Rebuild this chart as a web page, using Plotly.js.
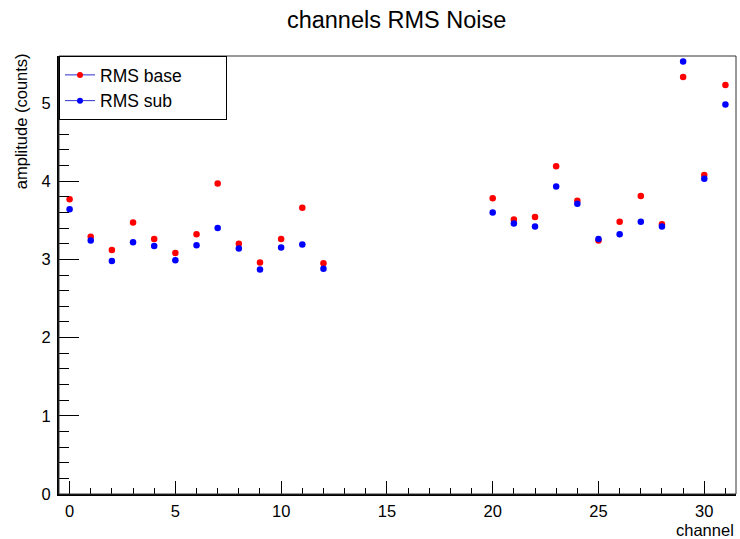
<!DOCTYPE html>
<html>
<head>
<meta charset="utf-8">
<script src="https://cdn.plot.ly/plotly-3.0.1.min.js"></script>
<style>html,body{margin:0;padding:0;background:#fff;}#chart{width:740px;height:539px;}</style>
</head>
<body>
<div id="chart"></div>
<script>
const channels = [0,1,2,3,4,5,6,7,8,9,10,11,12,20,21,22,23,24,25,26,27,28,29,30,31];
const rmsBase = [3.77,3.29,3.12,3.47,3.26,3.08,3.32,3.97,3.20,2.96,3.26,3.66,2.95,
                 3.78,3.51,3.54,4.19,3.75,3.24,3.48,3.81,3.45,5.33,4.08,5.23];
const rmsSub  = [3.64,3.24,2.98,3.22,3.17,2.99,3.18,3.40,3.14,2.87,3.15,3.19,2.88,
                 3.60,3.46,3.42,3.93,3.71,3.26,3.32,3.48,3.42,5.53,4.03,4.98];
const seriesNames = ["RMS base","RMS sub"];
const titleText = "channels RMS Noise";
const xTitle = "channel";
const yTitle = "amplitude (counts)";

const FONT = "Liberation Sans, Arial, Helvetica, sans-serif";
const padBase = "\u00a0".repeat(6);
const padSub = "\u00a0".repeat(10);

const traces = [
  {x: channels, y: rmsBase, type:'scatter', mode:'markers', showlegend:false,
   marker:{color:'#ff0000', size:6.5}},
  {x: channels, y: rmsSub, type:'scatter', mode:'markers', showlegend:false,
   marker:{color:'#0000ff', size:6.5}},
  {x:[null], y:[null], type:'scatter', mode:'lines+markers', name: seriesNames[0] + padBase,
   line:{color:'#2f2fd8', width:1}, marker:{color:'#ff0000', size:6}},
  {x:[null], y:[null], type:'scatter', mode:'lines+markers', name: seriesNames[1] + padSub,
   line:{color:'#2f2fd8', width:1}, marker:{color:'#0000ff', size:6}}
];

const layout = {
  width:740, height:539,
  margin:{l:59, r:4, t:56, b:45, pad:0},
  paper_bgcolor:'#fff', plot_bgcolor:'#fff',
  font:{family:FONT, size:16, color:'#000'},
  title:{text:titleText, font:{family:FONT, size:23.5, color:'#000'}, x:0.536, xanchor:'center', y:0.963, yanchor:'middle'},
  showlegend:true,
  legend:{x:0, xanchor:'left', y:1, yanchor:'top', bgcolor:'#fff', bordercolor:'#000', borderwidth:1,
          font:{family:FONT, size:17.5, color:'#000'}, itemwidth:30, tracegroupgap:0},
  xaxis:{range:[-0.5,31.5], showgrid:false, zeroline:false, showline:true, linecolor:'#000', linewidth:2,
         ticks:'inside', ticklen:13, tickwidth:1, tickcolor:'#000', dtick:5, tick0:0,
         minor:{dtick:1, ticks:'inside', ticklen:6, tickcolor:'#000', tickwidth:1},
         tickfont:{family:FONT, size:16.5}, ticklabelstandoff:1},
  yaxis:{range:[0,5.6], showgrid:false, zeroline:false, showline:true, linecolor:'#000', linewidth:2,
         ticks:'inside', ticklen:20, tickwidth:1, tickcolor:'#000', dtick:1, tick0:0,
         minor:{dtick:0.2, ticks:'inside', ticklen:10, tickcolor:'#000', tickwidth:1},
         tickfont:{family:FONT, size:16.5}, ticklabelstandoff:3},
  shapes:[{type:'rect', xref:'paper', yref:'paper', x0:0, x1:1, y0:0, y1:1, line:{color:'#333', width:1}}],
  annotations:[
    {text:yTitle, xref:'paper', yref:'paper', x:-0.057, y:1.012, xanchor:'center', yanchor:'top',
     textangle:-90, showarrow:false, font:{family:FONT, size:16.5, color:'#000'}},
    {text:xTitle, xref:'paper', yref:'paper', x:1.0, y:-0.058, xanchor:'right', yanchor:'top',
     showarrow:false, font:{family:FONT, size:16.5, color:'#000'}}
  ]
};
Plotly.newPlot('chart', traces, layout, {displayModeBar:false, staticPlot:true});
</script>
</body>
</html>
